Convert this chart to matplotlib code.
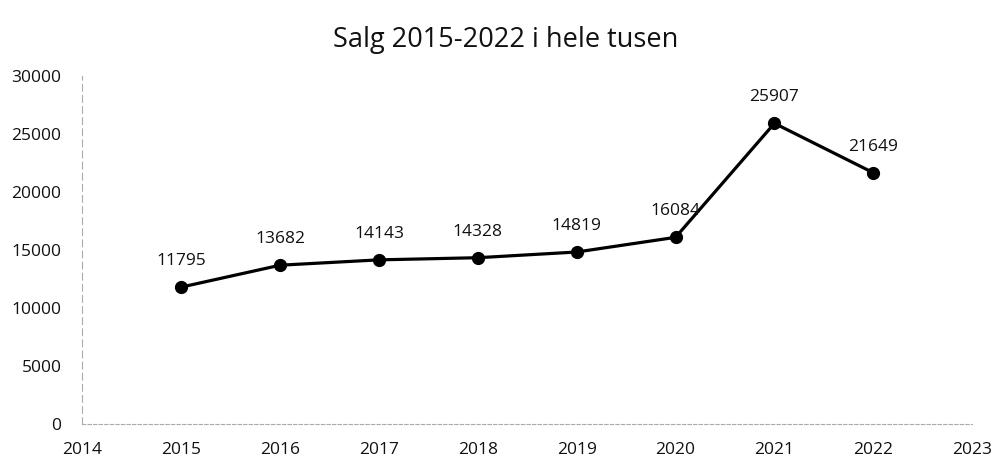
import matplotlib.pyplot as plt

years = [2015, 2016, 2017, 2018, 2019, 2020, 2021, 2022]
sales = [11795, 13682, 14143, 14328, 14819, 16084, 25907, 21649]
x_ticks = list(range(2014, 2024))
y_ticks = [0, 5000, 10000, 15000, 20000, 25000, 30000]

plt.rcParams['font.family'] = ['Open Sans', 'DejaVu Sans']

fig = plt.figure(figsize=(9.92, 4.68), dpi=100)
ax = fig.add_axes([0.083, 0.094, 0.897, 0.744])

# line with markers
ax.plot(years, sales, color='black', linewidth=2.3, marker='o', markersize=8.5)

# value labels above points
for x, y in zip(years, sales):
    ax.annotate(str(y), (x, y), xytext=(0, 13), textcoords='offset points',
                ha='center', va='bottom', fontsize=12.5, color='#111111')

ax.set_xlim(2014, 2023)
ax.set_ylim(0, 30000)
ax.set_xticks(x_ticks)
ax.set_yticks(y_ticks)
ax.tick_params(length=0, labelsize=12.5, labelcolor='#111111')
ax.tick_params(axis='y', pad=15)
ax.tick_params(axis='x', pad=13)

# faint axis lines like the scan
for side in ['top', 'right']:
    ax.spines[side].set_visible(False)
ax.spines['left'].set_color('#aaaaaa')
ax.spines['left'].set_linestyle((0, (6, 4)))
ax.spines['left'].set_linewidth(0.8)
ax.spines['bottom'].set_color('#aaaaaa')
ax.spines['bottom'].set_linestyle((0, (3, 2)))
ax.spines['bottom'].set_linewidth(0.8)

fig.suptitle('Salg 2015-2022 i hele tusen', x=0.51, y=0.945, fontsize=19.5,
             color='#111111')

fig.savefig('out.png', dpi=100)
plt.close(fig)
